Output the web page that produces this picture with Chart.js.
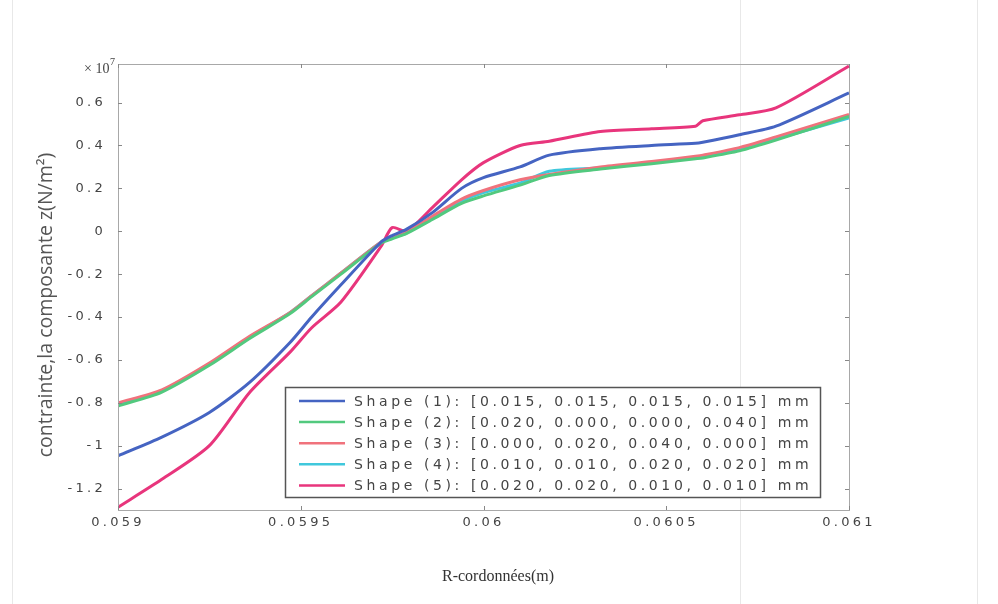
<!DOCTYPE html>
<html lang="fr">
<head>
  <meta charset="UTF-8">
  <title>Contrainte, composante z</title>
  <script src="https://cdn.jsdelivr.net/npm/chart.js"></script>
  <style>
    html, body { margin: 0; padding: 0; background: #fff; }
    #wrap { width: 998px; height: 604px; position: relative; }
  </style>
</head>
<body>
  <div id="wrap"><canvas id="stressChart" width="998" height="604"></canvas></div>

  <script>
    // R coordinate (m)
    const rCoords = [0.059, 0.05912, 0.05925, 0.05936, 0.05947, 0.05953, 0.05961, 0.05972, 0.05975, 0.05979, 0.05986,
                     0.05994, 0.06, 0.0601, 0.06018, 0.06032, 0.06046, 0.06058, 0.0606, 0.0607, 0.0608, 0.061];

    // stress z component, x 10^7 N/m^2
    const shape1 = [-1.047, -0.96, -0.845, -0.705, -0.52, -0.40, -0.25, -0.05, -0.02, 0.01, 0.087,
                    0.20, 0.25, 0.30, 0.355, 0.385, 0.40, 0.41, 0.415, 0.45, 0.49, 0.645];
    const shape2 = [-0.815, -0.75, -0.625, -0.50, -0.385, -0.305, -0.20, -0.055, -0.035, -0.01, 0.055,
                    0.13, 0.165, 0.215, 0.26, 0.29, 0.315, 0.338, 0.342, 0.375, 0.425, 0.535];
    const shape3 = [-0.80, -0.74, -0.615, -0.49, -0.38, -0.30, -0.195, -0.05, -0.03, -0.005, 0.07,
                    0.15, 0.19, 0.24, 0.265, 0.30, 0.325, 0.35, 0.355, 0.39, 0.44, 0.545];
    const shape4 = [-0.81, -0.745, -0.62, -0.495, -0.38, -0.30, -0.195, -0.05, -0.03, -0.008, 0.063,
                    0.14, 0.18, 0.225, 0.28, 0.296, 0.32, 0.343, 0.347, 0.38, 0.43, 0.528];
    const shape5 = [-1.287, -1.157, -1.0, -0.752, -0.565, -0.45, -0.33, -0.07, 0.017, 0.0, 0.11,
                    0.24, 0.32, 0.40, 0.42, 0.465, 0.478, 0.49, 0.515, 0.543, 0.575, 0.77];

    const shapeLabels = [
      'Shape (1): [0.015, 0.015, 0.015, 0.015] mm',
      'Shape (2): [0.020, 0.000, 0.000, 0.040] mm',
      'Shape (3): [0.000, 0.020, 0.040, 0.000] mm',
      'Shape (4): [0.010, 0.010, 0.020, 0.020] mm',
      'Shape (5): [0.020, 0.020, 0.010, 0.010] mm'
    ];
    const shapeColors = ['#4564c2', '#52c97e', '#f0727c', '#40c8dc', '#e8357c'];

    const xTicks = [0.059, 0.0595, 0.06, 0.0605, 0.061];
    const xTickLabels = ['0.059', '0.0595', '0.06', '0.0605', '0.061'];
    const yTicks = [0.6, 0.4, 0.2, 0, -0.2, -0.4, -0.6, -0.8, -1, -1.2];
    const yTickLabels = ['0.6', '0.4', '0.2', '0', '-0.2', '-0.4', '-0.6', '-0.8', '-1', '-1.2'];

    const allSeries = [shape1, shape2, shape3, shape4, shape5];

    // extra drawing: frame, inward ticks, exponent, titles, boxed legend
    const decorPlugin = {
      id: 'decor',
      beforeDraw(chart) {
        const ctx = chart.ctx;
        ctx.save();
        ctx.strokeStyle = '#e8e8e8';
        ctx.lineWidth = 1;
        [12.5, 740.5, 977.5].forEach(x => {
          ctx.beginPath(); ctx.moveTo(x, 0); ctx.lineTo(x, 604); ctx.stroke();
        });
        ctx.restore();
        // spaced-out tick lettering
        ctx.letterSpacing = '3.3px';
      },
      afterDraw(chart) {
        const ctx = chart.ctx;
        const a = chart.chartArea;
        const xs = chart.scales.x, ys = chart.scales.y;
        ctx.save();
        ctx.letterSpacing = '0px';

        // axes box
        ctx.strokeStyle = '#a8a8a8';
        ctx.lineWidth = 1;
        ctx.strokeRect(Math.round(a.left) + 0.5, Math.round(a.top) + 0.5,
                       Math.round(a.right - a.left), Math.round(a.bottom - a.top));

        // inward tick marks on all four sides
        ctx.strokeStyle = '#888';
        ctx.beginPath();
        xTicks.forEach(v => {
          const px = Math.round(xs.getPixelForValue(v)) + 0.5;
          ctx.moveTo(px, a.bottom); ctx.lineTo(px, a.bottom - 4);
          ctx.moveTo(px, a.top); ctx.lineTo(px, a.top + 4);
        });
        yTicks.forEach(v => {
          const py = Math.round(ys.getPixelForValue(v)) + 0.5;
          ctx.moveTo(a.left, py); ctx.lineTo(a.left + 4, py);
          ctx.moveTo(a.right, py); ctx.lineTo(a.right - 4, py);
        });
        ctx.stroke();

        // exponent of the y axis
        ctx.fillStyle = '#444';
        ctx.textBaseline = 'middle';
        ctx.textAlign = 'left';
        ctx.font = '14px "Liberation Serif"';
        ctx.fillText('\u00d7 10', 84, 69);
        ctx.font = '10px "Liberation Serif"';
        ctx.fillText('7', 110, 62);

        // axis titles
        ctx.fillStyle = '#333';
        ctx.textAlign = 'center';
        ctx.font = '16px "Liberation Serif"';
        ctx.fillText('R-cordonnées(m)', 498, 577);

        ctx.save();
        ctx.translate(46, 305);
        ctx.rotate(-Math.PI / 2);
        ctx.fillStyle = '#555';
        ctx.font = '19.5px "Open Sans"';
        ctx.fillText('contrainte,la composante z(N/m\u00b2)', 0, 0);
        ctx.restore();

        // legend box
        const bx = 285.5, by = 387.5, bw = 535, bh = 110;
        ctx.fillStyle = '#fff';
        ctx.fillRect(bx, by, bw, bh);
        ctx.strokeStyle = '#555';
        ctx.lineWidth = 1.5;
        ctx.strokeRect(bx, by, bw, bh);

        ctx.font = '14px "DejaVu Sans"';
        ctx.textAlign = 'left';
        ctx.textBaseline = 'middle';
        ctx.letterSpacing = '3.6px';
        chart.data.datasets.forEach((ds, i) => {
          const ry = 401 + i * 21.1;
          ctx.strokeStyle = ds.borderColor;
          ctx.lineWidth = 2.5;
          ctx.beginPath(); ctx.moveTo(299, ry); ctx.lineTo(345, ry); ctx.stroke();
          ctx.fillStyle = '#444';
          ctx.fillText(ds.label, 354, ry + 1);
        });
        ctx.restore();
      }
    };

    const ctx = document.getElementById('stressChart').getContext('2d');
    new Chart(ctx, {
      type: 'line',
      data: {
        datasets: allSeries.map((s, i) => ({
          label: shapeLabels[i],
          data: rCoords.map((r, j) => ({ x: r, y: s[j] })),
          borderColor: shapeColors[i],
          backgroundColor: shapeColors[i],
          borderWidth: 3,
          pointRadius: 0,
          tension: 0.25,
          fill: false
        }))
      },
      options: {
        responsive: false,
        animation: false,
        layout: { padding: { top: 64, right: 149, left: 0, bottom: 0 } },
        plugins: {
          legend: { display: false },
          tooltip: { enabled: false }
        },
        scales: {
          x: {
            type: 'linear',
            min: 0.059,
            max: 0.061,
            afterBuildTicks: s => { s.ticks = xTicks.map(v => ({ value: v })); },
            afterFit: s => { s.height = 94; },
            grid: { display: false, drawTicks: false },
            border: { display: false },
            ticks: {
              padding: 5,
              color: '#444',
              font: { family: 'DejaVu Sans', size: 13 },
              maxRotation: 0,
              callback: (v, i) => xTickLabels[i]
            }
          },
          y: {
            min: -1.3,
            max: 0.78,
            afterBuildTicks: s => { s.ticks = yTicks.map(v => ({ value: v })); },
            afterFit: s => { s.width = 118; },
            grid: { display: false, drawTicks: false },
            border: { display: false },
            ticks: {
              padding: 12,
              color: '#444',
              font: { family: 'DejaVu Sans', size: 13 },
              callback: (v, i) => yTickLabels[i]
            }
          }
        }
      },
      plugins: [decorPlugin]
    });
  </script>
</body>
</html>
